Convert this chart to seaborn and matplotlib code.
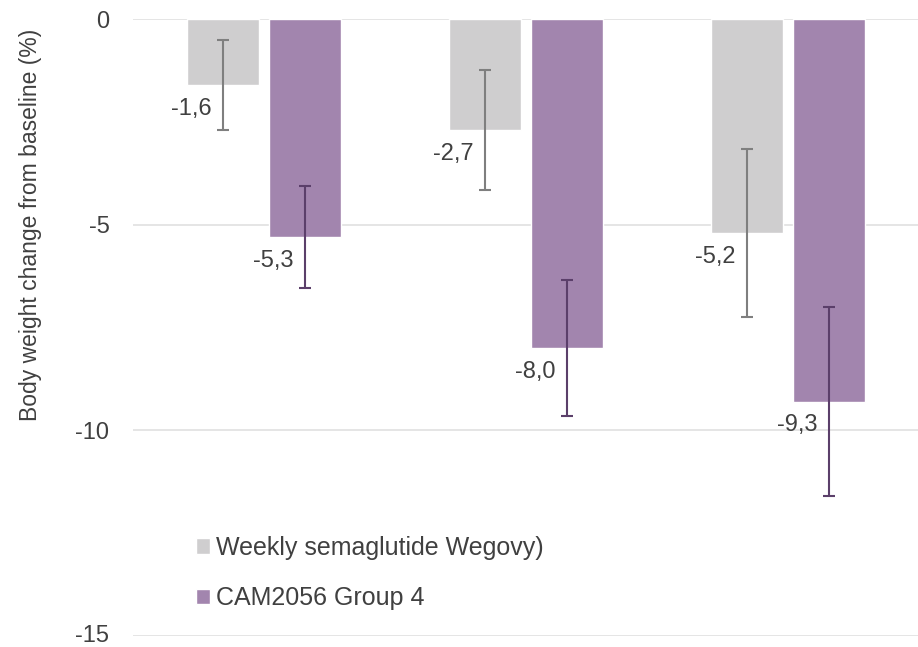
import pandas as pd
import numpy as np
import matplotlib
matplotlib.use('Agg')
import matplotlib.pyplot as plt
import matplotlib.transforms as mtransforms
import seaborn as sns

# Data
groups = ['A', 'B', 'C']
series = ['Weekly semaglutide Wegovy)', 'CAM2056 Group 4']
wegovy_mean = [-1.6, -2.7, -5.2]
cam_mean = [-5.3, -8.0, -9.3]
wegovy_err = [1.1, 1.45, 2.05]
cam_err = [1.25, 1.65, 2.3]
y_ticks = [0, -5, -10, -15]

bar_colors = ['#CFCECF', '#A285AE']
err_colors = ['#7F7F7F', '#5B3F6A']
text_color = '#404040'

df = pd.DataFrame({
    'group': groups * 2,
    'series': [series[0]] * 3 + [series[1]] * 3,
    'value': wegovy_mean + cam_mean,
})
errs = [wegovy_err, cam_err]
means = [wegovy_mean, cam_mean]

sns.set_style('white')
plt.rcParams['font.family'] = ['Liberation Sans', 'DejaVu Sans']

fig = plt.figure(figsize=(9.18, 6.47), dpi=100)
ax = fig.add_axes([133 / 918, 11 / 647, 786 / 918, 617 / 647])

sns.barplot(data=df, x='group', y='value', hue='series', hue_order=series,
            palette=bar_colors, width=0.626, gap=0.11, errorbar=None,
            saturation=1, ax=ax, zorder=2)

bar_conts = list(ax.containers)
for i, cont in enumerate(bar_conts):
    xs = [p.get_x() + p.get_width() / 2 for p in cont.patches]
    ax.errorbar(xs, means[i], yerr=errs[i], fmt='none', ecolor=err_colors[i],
                elinewidth=1.5, capsize=4.3, capthick=1.5, zorder=3)
    for x, v in zip(xs, means[i]):
        ax.text(x - 0.045, v - 0.58, f'{v:.1f}'.replace('.', ','),
                ha='right', va='center', fontsize=17, color=text_color, zorder=4)

ax.set_xlim(-0.5, 2.5)
ax.set_ylim(-15, 0)
ax.set_yticks(y_ticks)
ax.set_yticklabels([str(t) for t in y_ticks])
ax.set_xticks([])
ax.set_xlabel('')
ax.set_ylabel('Body weight change from baseline (%)', fontsize=16.5, color=text_color)
ax.yaxis.set_label_coords((42 - 133) / 786, (636 - 225) / 617)
ax.tick_params(axis='y', length=0, pad=17, labelsize=17, labelcolor=text_color)
ax.grid(axis='y', color='#E0E0E0', linewidth=1.2, zorder=0)
ax.set_axisbelow(True)
for s in ax.spines.values():
    s.set_visible(False)

# keep the bottom tick label inside the figure edge
bottom_lbl = ax.get_yticklabels()[-1]
bottom_lbl.set_transform(bottom_lbl.get_transform()
                         + mtransforms.ScaledTranslation(0, 3 / 100, fig.dpi_scale_trans))

handles, labels = ax.get_legend_handles_labels()
ax.legend(handles, labels, loc='center left', bbox_to_anchor=((196 - 133) / 786, (636 - 573) / 617),
          frameon=False, fontsize=18, labelcolor=text_color, handlelength=0.56,
          handleheight=0.56, handletextpad=0.25, labelspacing=1.05, borderpad=0,
          borderaxespad=0)

fig.savefig('out.png', dpi=100)
